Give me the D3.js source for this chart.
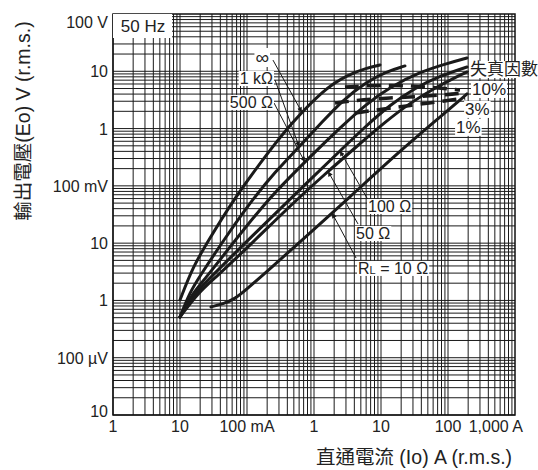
<!DOCTYPE html>
<html>
<head>
<meta charset="utf-8">
<script src="https://cdn.jsdelivr.net/npm/d3@7"></script>
<style>
  body { margin: 0; background: #fff; }
  text { font-family: "Liberation Sans", Arial, "Noto Sans CJK TC", sans-serif; fill: #222; }
</style>
</head>
<body>
<div id="chart"></div>
<script>
// Tick labels
const xTickValues = [0.001, 0.01, 0.1, 1, 10, 100, 1000]
const xTickLabels = ["1", "10", "100 mA", "1", "10", "100", "1,000 A"]
const yTickValues = [1e-5, 1e-4, 1e-3, 1e-2, 1e-1, 1, 10, 100]
const yTickLabels = ["10", "100 µV", "1", "10", "100 mV", "1", "10", "100 V"]

// Load curves: [current A, output voltage V]
const loadInf = [[0.0100, 0.00102], [0.0156, 0.00385], [0.0253, 0.0101], [0.0618, 0.0567], [0.220, 0.423],
  [0.438, 1.16], [1.36, 4.72], [3.11, 8.61], [6.18, 11.4], [9.66, 12.9]]
const load1k = [[0.0100, 0.000515], [0.0141, 0.00141], [0.0199, 0.00268], [0.0470, 0.0123], [0.119, 0.0567],
  [0.262, 0.175], [0.618, 0.497], [1.32, 1.30], [2.71, 3.16], [5.77, 6.25], [11.5, 9.73], [22.8, 12.4]]
const load500 = [[0.0100, 0.000515], [0.0151, 0.00130], [0.0236, 0.00237], [0.0557, 0.00859], [0.186, 0.0503],
  [0.438, 0.143], [1.035, 0.391], [2.44, 1.02], [5.77, 2.58], [13.6, 5.32], [38.2, 9.73], [90.2, 13.4], [192, 17.1]]
const load100 = [[0.0100, 0.000515], [0.0168, 0.00135], [0.0301, 0.00268], [0.0787, 0.00824], [0.311, 0.0395],
  [0.871, 0.127], [2.44, 0.407], [5.77, 1.07], [13.6, 2.58], [32.2, 5.12], [76.0, 8.28], [192, 11.9]]
const load50 = [[0.0100, 0.000515], [0.0186, 0.00135], [0.0333, 0.00247], [0.0933, 0.00760], [0.486, 0.0503],
  [1.46, 0.161], [4.09, 0.458], [11.5, 1.30], [27.1, 2.80], [64.0, 5.12], [115, 7.34], [192, 9.73]]
const load10 = [[0.0290, 0.000771], [0.0438, 0.000869], [0.0662, 0.00106], [0.100, 0.00159], [0.168, 0.00268],
  [0.618, 0.0105], [3.44, 0.0640], [19.2, 0.407], [76.0, 1.59], [192, 4.02]]

// Distortion factor lines
const dist10 = [[2.9, 5.3], [9.7, 5.8], [38, 5.5], [151, 4.7]]
const dist3 = [[2.06, 2.8], [6.85, 3.3], [27, 3.56], [90, 3.86], [180, 4.18]]
const dist1 = [[4.1, 1.87], [13.6, 2.29], [54, 2.8], [180, 3.42]]

const loads = [
  { name: "∞", values: loadInf },
  { name: "1 kΩ", values: load1k },
  { name: "500 Ω", values: load500 },
  { name: "100 Ω", values: load100 },
  { name: "50 Ω", values: load50 },
  { name: "10 Ω", values: load10 }
]
const distortions = [dist10, dist3, dist1]

// Labels: text position [A, V], leader start [A, V], leader target current on curve
const loadLabels = [
  { text: "∞", pos: [0.213, 13.4], anchor: "end", size: 19, from: [0.244, 15.7], curve: 0, at: 0.66 },
  { text: "1 kΩ", pos: [0.244, 6.0], anchor: "end", size: 16, from: [0.262, 7.05], curve: 1, at: 0.6 },
  { text: "500 Ω", pos: [0.244, 2.29], anchor: "end", size: 16, from: [0.253, 2.8], curve: 2, at: 0.73 },
  { text: "100 Ω", pos: [6.4, 0.035], anchor: "start", size: 16, from: [6.4, 0.057], curve: 3, at: 2.44 },
  { text: "50 Ω", pos: [4.24, 0.0118], anchor: "start", size: 16, from: [4.54, 0.0216], curve: 4, at: 1.62 },
  { text: "RL = 10 Ω", pos: [4.54, 0.0029], anchor: "start", size: 16, from: [4.24, 0.0055], curve: 5, at: 1.86 }
]
const sideLabels = [
  { text: "失真因數", pos: [213, 8.6] },
  { text: "10%", pos: [228, 3.86] },
  { text: "3%", pos: [180, 1.73] },
  { text: "1%", pos: [132, 0.84] }
]

const dimensions = { width: 538, height: 470, left: 113, right: 515, top: 14, bottom: 415 }

const svg = d3.select("#chart")
  .append("svg")
  .attr("width", dimensions.width)
  .attr("height", dimensions.height)

const xScale = d3.scaleLog().domain([1e-3, 1e3]).range([dimensions.left, dimensions.right])
const yScale = d3.scaleLog().domain([1e-5, 1e2]).range([dimensions.bottom, dimensions.top])

// Grid
const xGrid = []
for (let e = -3; e < 3; e++) for (let k = 1; k < 10; k++) xGrid.push(k * Math.pow(10, e))
const yGrid = []
for (let e = -5; e < 2; e++) for (let k = 1; k < 10; k++) yGrid.push(k * Math.pow(10, e))

const grid = svg.append("g")
grid.selectAll(".vx")
  .data(xGrid)
  .join("line")
  .attr("x1", d => xScale(d)).attr("x2", d => xScale(d))
  .attr("y1", dimensions.top).attr("y2", dimensions.bottom)
  .attr("stroke", "#1a1a1a").attr("stroke-width", 1)
grid.selectAll(".hy")
  .data(yGrid)
  .join("line")
  .attr("y1", d => yScale(d)).attr("y2", d => yScale(d))
  .attr("x1", dimensions.left).attr("x2", dimensions.right)
  .attr("stroke", "#1a1a1a").attr("stroke-width", 1)

svg.append("rect")
  .attr("x", dimensions.left).attr("y", dimensions.top)
  .attr("width", dimensions.right - dimensions.left)
  .attr("height", dimensions.bottom - dimensions.top)
  .attr("fill", "none").attr("stroke", "#111").attr("stroke-width", 1.5)

// Tick labels
svg.append("g").selectAll("text")
  .data(xTickValues)
  .join("text")
  .attr("x", (d, i) => i === xTickValues.length - 1 ? xScale(d) + 8 : xScale(d))
  .attr("y", 432)
  .attr("text-anchor", (d, i) => i === xTickValues.length - 1 ? "end" : "middle")
  .style("font-size", "16px")
  .text((d, i) => xTickLabels[i])

svg.append("g").selectAll("text")
  .data(yTickValues)
  .join("text")
  .attr("x", 108)
  .attr("y", d => Math.min(Math.max(yScale(d), 22), 411) + 6)
  .attr("text-anchor", "end")
  .style("font-size", "16px")
  .text((d, i) => yTickLabels[i])

// Axis titles
svg.append("text")
  .attr("x", 414).attr("y", 464)
  .attr("text-anchor", "middle")
  .style("font-size", "19.5px")
  .text("直通電流 (Io) A (r.m.s.)")

svg.append("text")
  .attr("transform", "translate(30,121) rotate(-90)")
  .attr("text-anchor", "middle")
  .style("font-size", "19.5px")
  .text("輸出電壓(Eo) V (r.m.s.)")

// Curves
const line = d3.line()
  .x(d => xScale(d[0]))
  .y(d => yScale(d[1]))
  .curve(d3.curveBasis)

svg.append("g").selectAll("path")
  .data(loads)
  .join("path")
  .attr("d", d => line(d.values))
  .attr("fill", "none")
  .attr("stroke", "#1a1a1a")
  .attr("stroke-width", 3)
  .attr("stroke-linecap", "round")

svg.append("g").selectAll("path")
  .data(distortions)
  .join("path")
  .attr("d", d => line(d))
  .attr("fill", "none")
  .attr("stroke", "#1a1a1a")
  .attr("stroke-width", 3.5)
  .attr("stroke-dasharray", "14,8")

// value on a curve at a current, log-linear
function valueAt(values, cur) {
  for (let i = 1; i < values.length; i++) {
    if (values[i][0] >= cur) {
      const a = values[i - 1], b = values[i]
      const t = (Math.log(cur) - Math.log(a[0])) / (Math.log(b[0]) - Math.log(a[0]))
      return Math.exp(Math.log(a[1]) + t * (Math.log(b[1]) - Math.log(a[1])))
    }
  }
  return values[values.length - 1][1]
}

// Label backgrounds + text
function boxedText(g, x, y, txt, size, anchor) {
  const t = g.append("text")
    .attr("x", x).attr("y", y)
    .attr("text-anchor", anchor)
    .style("font-size", size + "px")
    .text(txt)
  const b = t.node().getBBox()
  g.insert("rect", "text")
    .attr("x", b.x - 1).attr("y", b.y + 1)
    .attr("width", b.width + 2).attr("height", b.height - 2)
    .attr("fill", "#fff")
  return t
}

// leaders
const defs = svg.append("defs")
defs.append("marker")
  .attr("id", "arrow")
  .attr("viewBox", "0 0 10 10")
  .attr("refX", 10).attr("refY", 5)
  .attr("markerWidth", 7).attr("markerHeight", 5)
  .attr("markerUnits", "userSpaceOnUse")
  .attr("orient", "auto")
  .append("path").attr("d", "M0,0 L10,5 L0,10 z").attr("fill", "#1a1a1a")

svg.append("g").selectAll("line")
  .data(loadLabels)
  .join("line")
  .attr("x1", d => xScale(d.from[0])).attr("y1", d => yScale(d.from[1]))
  .attr("x2", d => xScale(d.at))
  .attr("y2", d => yScale(valueAt(loads[d.curve].values, d.at)))
  .attr("stroke", "#1a1a1a").attr("stroke-width", 1)
  .attr("marker-end", "url(#arrow)")

const labels = svg.append("g")
loadLabels.forEach(d => {
  const g = labels.append("g")
  if (d.text.startsWith("RL")) {
    const t = boxedText(g, xScale(d.pos[0]), yScale(d.pos[1]), "", d.size, d.anchor)
    t.append("tspan").text("R")
    t.append("tspan").text("L").style("font-size", "11px")
    t.append("tspan").text(" = 10 Ω")
    const b = t.node().getBBox()
    g.select("rect").attr("x", b.x - 1).attr("y", b.y + 1).attr("width", b.width + 2).attr("height", b.height - 2)
  } else {
    boxedText(g, xScale(d.pos[0]), yScale(d.pos[1]), d.text, d.size, d.anchor)
  }
})

sideLabels.forEach(d => {
  boxedText(labels.append("g"), xScale(d.pos[0]), yScale(d.pos[1]), d.text, 17, "start")
})

// 50 Hz box
const hz = svg.append("g")
hz.append("rect")
  .attr("x", xScale(1e-3)).attr("y", yScale(100))
  .attr("width", 59).attr("height", 24)
  .attr("fill", "#fff")
hz.append("text")
  .attr("x", xScale(0.00131)).attr("y", yScale(48.5))
  .style("font-size", "17px")
  .text("50 Hz")
</script>
</body>
</html>
